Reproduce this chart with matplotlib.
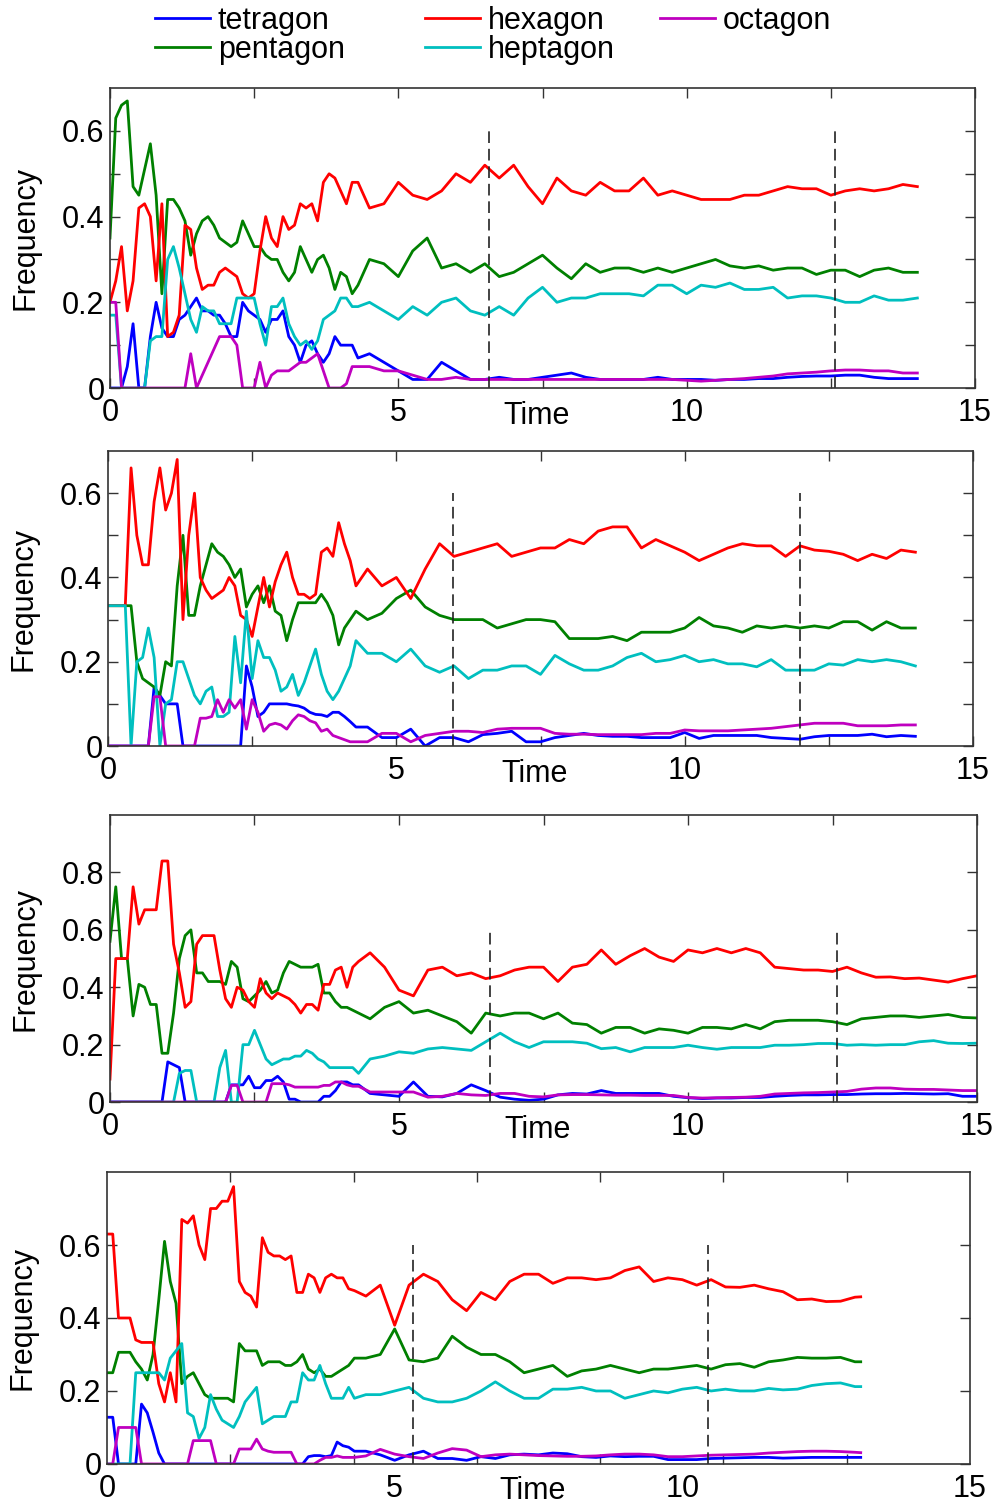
import matplotlib
matplotlib.use('Agg')
import matplotlib.pyplot as plt
import numpy as np
from matplotlib.lines import Line2D

plt.rcParams['font.family'] = ['Liberation Sans', 'DejaVu Sans']

labels = ['tetragon', 'pentagon', 'hexagon', 'heptagon', 'octagon']
colors = ['#0000ff', '#008000', '#ff0000', '#00bfbf', '#bf00bf']

# time grid: fine steps for the noisy start, coarser afterwards
t_early = np.round(np.arange(0, 4.35, 0.1), 2)
t_p1 = np.concatenate([t_early, np.arange(4.5, 14.01, 0.25)])
t_p2 = np.concatenate([t_early, np.arange(4.5, 14.01, 0.25)])
t_p3 = np.concatenate([t_early, np.arange(4.5, 15.01, 0.25)])
t_p4 = np.concatenate([t_early, np.arange(4.5, 13.01, 0.25), [13.1]])

# ---------------- panel 1 ----------------
p1_tetragon = [0.0, 0.0, 0.0, 0.05, 0.15, 0.0, 0.0, 0.12, 0.20, 0.14,
               0.12, 0.12, 0.16, 0.17, 0.19, 0.21, 0.18, 0.18, 0.17, 0.17,
               0.15, 0.12, 0.12, 0.20, 0.18, 0.17, 0.16, 0.13, 0.16, 0.16,
               0.18, 0.12, 0.10, 0.06, 0.10, 0.11, 0.08, 0.06, 0.08, 0.12,
               0.10, 0.10, 0.10, 0.07,
               0.08, 0.06, 0.04, 0.02, 0.02, 0.06, 0.04, 0.02, 0.02, 0.025,
               0.02, 0.02, 0.025, 0.03, 0.035, 0.025, 0.02, 0.02, 0.02, 0.02,
               0.025, 0.02, 0.02, 0.02, 0.018, 0.02, 0.02, 0.022, 0.022, 0.025,
               0.027, 0.028, 0.028, 0.03, 0.03, 0.025, 0.022, 0.022, 0.022]
p1_pentagon = [0.35, 0.63, 0.66, 0.67, 0.47, 0.45, 0.51, 0.57, 0.45, 0.22,
               0.44, 0.44, 0.42, 0.39, 0.31, 0.36, 0.39, 0.40, 0.38, 0.35,
               0.34, 0.33, 0.34, 0.39, 0.36, 0.33, 0.33, 0.31, 0.30, 0.30,
               0.27, 0.25, 0.27, 0.33, 0.30, 0.27, 0.30, 0.31, 0.28, 0.23,
               0.27, 0.26, 0.22, 0.24,
               0.30, 0.29, 0.26, 0.32, 0.35, 0.28, 0.29, 0.27, 0.29, 0.26,
               0.27, 0.29, 0.31, 0.28, 0.255, 0.29, 0.27, 0.28, 0.28, 0.27,
               0.28, 0.27, 0.28, 0.29, 0.30, 0.285, 0.28, 0.285, 0.275, 0.28,
               0.28, 0.265, 0.275, 0.275, 0.26, 0.275, 0.28, 0.27, 0.27]
p1_hexagon = [0.20, 0.25, 0.33, 0.18, 0.25, 0.42, 0.43, 0.40, 0.25, 0.43,
              0.12, 0.13, 0.17, 0.38, 0.37, 0.28, 0.23, 0.24, 0.24, 0.27,
              0.28, 0.27, 0.26, 0.22, 0.21, 0.22, 0.32, 0.40, 0.35, 0.33,
              0.40, 0.37, 0.38, 0.43, 0.42, 0.43, 0.39, 0.48, 0.50, 0.49,
              0.46, 0.43, 0.48, 0.48,
              0.42, 0.43, 0.48, 0.45, 0.44, 0.46, 0.50, 0.48, 0.52, 0.49,
              0.52, 0.47, 0.43, 0.49, 0.46, 0.45, 0.48, 0.46, 0.46, 0.49,
              0.45, 0.46, 0.45, 0.44, 0.44, 0.44, 0.45, 0.45, 0.46, 0.47,
              0.465, 0.465, 0.45, 0.46, 0.465, 0.46, 0.465, 0.475, 0.47]
p1_heptagon = [0.17, 0.17, 0.0, 0.0, 0.0, 0.0, 0.0, 0.11, 0.12, 0.12,
               0.30, 0.33, 0.28, 0.22, 0.16, 0.13, 0.19, 0.18, 0.18, 0.15,
               0.15, 0.15, 0.21, 0.21, 0.21, 0.21, 0.15, 0.10, 0.19, 0.19,
               0.21, 0.15, 0.12, 0.10, 0.11, 0.09, 0.11, 0.16, 0.17, 0.18,
               0.21, 0.21, 0.19, 0.19,
               0.20, 0.18, 0.16, 0.19, 0.17, 0.20, 0.21, 0.18, 0.17, 0.19,
               0.17, 0.21, 0.235, 0.20, 0.21, 0.21, 0.22, 0.22, 0.22, 0.215,
               0.24, 0.24, 0.22, 0.24, 0.235, 0.245, 0.23, 0.23, 0.235, 0.21,
               0.215, 0.215, 0.21, 0.20, 0.20, 0.215, 0.205, 0.205, 0.21]
p1_octagon = [0.20, 0.20, 0.0, 0.0, 0.0, 0.0, 0.0, 0.0, 0.0, 0.0,
              0.0, 0.0, 0.0, 0.0, 0.08, 0.0, 0.03, 0.06, 0.09, 0.12,
              0.12, 0.12, 0.10, 0.0, 0.0, 0.0, 0.06, 0.0, 0.03, 0.04,
              0.04, 0.04, 0.05, 0.06, 0.06, 0.07, 0.08, 0.04, 0.0, 0.0,
              0.0, 0.01, 0.05, 0.05,
              0.05, 0.04, 0.04, 0.03, 0.02, 0.02, 0.025, 0.02, 0.02, 0.02,
              0.02, 0.02, 0.02, 0.02, 0.02, 0.02, 0.02, 0.02, 0.02, 0.02,
              0.02, 0.02, 0.018, 0.016, 0.018, 0.02, 0.022, 0.025, 0.028, 0.033,
              0.035, 0.037, 0.04, 0.042, 0.042, 0.04, 0.04, 0.035, 0.035]

# ---------------- panel 2 ----------------
p2_tetragon = [0.0, 0.0, 0.0, 0.0, 0.0, 0.0, 0.0, 0.0, 0.14, 0.12,
               0.10, 0.10, 0.10, 0.0, 0.0, 0.0, 0.0, 0.0, 0.0, 0.0,
               0.0, 0.0, 0.0, 0.0, 0.19, 0.14, 0.07, 0.08, 0.10, 0.10,
               0.10, 0.10, 0.097, 0.095, 0.09, 0.08, 0.075, 0.074, 0.07, 0.08,
               0.08, 0.07, 0.058, 0.045,
               0.045, 0.02, 0.02, 0.04, 0.0, 0.02, 0.02, 0.01, 0.027, 0.03,
               0.035, 0.01, 0.01, 0.02, 0.025, 0.03, 0.025, 0.023, 0.023, 0.02,
               0.02, 0.02, 0.032, 0.018, 0.025, 0.025, 0.025, 0.025, 0.02, 0.018,
               0.016, 0.022, 0.025, 0.025, 0.025, 0.028, 0.022, 0.025, 0.023]
p2_pentagon = [0.333, 0.333, 0.333, 0.333, 0.333, 0.20, 0.16, 0.15, 0.14, 0.12,
               0.20, 0.19, 0.38, 0.50, 0.31, 0.31, 0.38, 0.43, 0.48, 0.46,
               0.45, 0.43, 0.40, 0.42, 0.33, 0.36, 0.38, 0.34, 0.38, 0.32,
               0.31, 0.25, 0.30, 0.34, 0.34, 0.34, 0.34, 0.36, 0.34, 0.31,
               0.24, 0.28, 0.30, 0.32,
               0.30, 0.315, 0.35, 0.37, 0.33, 0.31, 0.30, 0.30, 0.30, 0.28,
               0.29, 0.30, 0.30, 0.295, 0.255, 0.255, 0.255, 0.26, 0.25, 0.27,
               0.27, 0.27, 0.28, 0.305, 0.285, 0.28, 0.27, 0.285, 0.28, 0.285,
               0.28, 0.285, 0.28, 0.295, 0.295, 0.275, 0.295, 0.28, 0.28]
p2_hexagon = [0.333, 0.333, 0.333, 0.333, 0.66, 0.50, 0.43, 0.43, 0.58, 0.66,
              0.56, 0.60, 0.68, 0.30, 0.50, 0.60, 0.40, 0.37, 0.35, 0.36,
              0.37, 0.40, 0.38, 0.31, 0.30, 0.26, 0.33, 0.40, 0.33, 0.39,
              0.43, 0.46, 0.40, 0.36, 0.36, 0.35, 0.36, 0.46, 0.47, 0.45,
              0.53, 0.48, 0.44, 0.38,
              0.42, 0.38, 0.40, 0.35, 0.42, 0.48, 0.45, 0.46, 0.47, 0.48,
              0.45, 0.46, 0.47, 0.47, 0.49, 0.48, 0.51, 0.52, 0.52, 0.47,
              0.49, 0.475, 0.46, 0.44, 0.455, 0.47, 0.48, 0.475, 0.475, 0.45,
              0.475, 0.465, 0.462, 0.455, 0.44, 0.455, 0.445, 0.465, 0.46]
p2_heptagon = [0.333, 0.333, 0.333, 0.333, 0.0, 0.20, 0.21, 0.28, 0.21, 0.0,
               0.10, 0.11, 0.20, 0.20, 0.16, 0.12, 0.10, 0.13, 0.14, 0.07,
               0.07, 0.08, 0.26, 0.15, 0.32, 0.16, 0.25, 0.21, 0.21, 0.18,
               0.13, 0.14, 0.17, 0.12, 0.15, 0.19, 0.23, 0.17, 0.13, 0.11,
               0.13, 0.16, 0.19, 0.25,
               0.22, 0.22, 0.20, 0.23, 0.19, 0.175, 0.19, 0.16, 0.18, 0.18,
               0.19, 0.19, 0.17, 0.215, 0.195, 0.18, 0.18, 0.19, 0.21, 0.22,
               0.20, 0.205, 0.215, 0.20, 0.205, 0.195, 0.195, 0.188, 0.205, 0.18,
               0.18, 0.18, 0.195, 0.192, 0.205, 0.20, 0.205, 0.20, 0.19]
p2_octagon = [0.0, 0.0, 0.0, 0.0, 0.0, 0.0, 0.0, 0.0, 0.117, 0.117,
              0.0, 0.0, 0.0, 0.0, 0.0, 0.0, 0.066, 0.066, 0.07, 0.11,
              0.08, 0.11, 0.09, 0.11, 0.04, 0.11, 0.08, 0.035, 0.05, 0.054,
              0.05, 0.04, 0.06, 0.074, 0.07, 0.06, 0.055, 0.035, 0.04, 0.025,
              0.02, 0.015, 0.01, 0.01,
              0.01, 0.03, 0.03, 0.01, 0.025, 0.03, 0.035, 0.035, 0.032, 0.04,
              0.042, 0.042, 0.042, 0.03, 0.028, 0.028, 0.027, 0.027, 0.027, 0.027,
              0.03, 0.03, 0.038, 0.036, 0.036, 0.036, 0.038, 0.04, 0.042, 0.046,
              0.05, 0.054, 0.054, 0.054, 0.048, 0.048, 0.048, 0.05, 0.05]

# ---------------- panel 3 ----------------
p3_tetragon = [0.0, 0.0, 0.0, 0.0, 0.0, 0.0, 0.0, 0.0, 0.0, 0.0,
               0.14, 0.13, 0.12, 0.0, 0.0, 0.0, 0.0, 0.0, 0.0, 0.0,
               0.0, 0.06, 0.06, 0.06, 0.09, 0.05, 0.05, 0.075, 0.075, 0.09,
               0.07, 0.01, 0.01, 0.0, 0.0, 0.0, 0.0, 0.02, 0.02, 0.04,
               0.07, 0.07, 0.06, 0.06,
               0.03, 0.025, 0.02, 0.07, 0.02, 0.018, 0.03, 0.06, 0.04, 0.017,
               0.01, 0.006, 0.01, 0.025, 0.03, 0.028, 0.04, 0.03, 0.03, 0.03,
               0.03, 0.02, 0.015, 0.012, 0.014, 0.014, 0.016, 0.016, 0.02, 0.023,
               0.025, 0.025, 0.026, 0.026, 0.028, 0.029, 0.029, 0.03, 0.029, 0.028,
               0.029, 0.02, 0.02]
p3_pentagon = [0.56, 0.75, 0.50, 0.50, 0.30, 0.41, 0.40, 0.34, 0.34, 0.17,
               0.17, 0.31, 0.50, 0.58, 0.60, 0.45, 0.45, 0.42, 0.42, 0.42,
               0.41, 0.49, 0.47, 0.36, 0.35, 0.37, 0.39, 0.42, 0.38, 0.39,
               0.45, 0.49, 0.48, 0.47, 0.47, 0.47, 0.48, 0.38, 0.38, 0.35,
               0.33, 0.33, 0.32, 0.31,
               0.29, 0.33, 0.35, 0.31, 0.32, 0.30, 0.28, 0.24, 0.31, 0.30,
               0.31, 0.31, 0.29, 0.31, 0.275, 0.27, 0.24, 0.26, 0.26, 0.24,
               0.255, 0.25, 0.24, 0.26, 0.26, 0.255, 0.27, 0.255, 0.28, 0.285,
               0.285, 0.285, 0.28, 0.27, 0.29, 0.295, 0.30, 0.30, 0.295, 0.30,
               0.305, 0.295, 0.293]
p3_hexagon = [0.08, 0.50, 0.50, 0.50, 0.75, 0.62, 0.67, 0.67, 0.67, 0.84,
              0.84, 0.55, 0.45, 0.33, 0.35, 0.55, 0.58, 0.58, 0.58, 0.46,
              0.36, 0.33, 0.40, 0.39, 0.35, 0.33, 0.43, 0.38, 0.36, 0.38,
              0.37, 0.36, 0.34, 0.31, 0.34, 0.34, 0.32, 0.41, 0.41, 0.46,
              0.47, 0.40, 0.47, 0.49,
              0.52, 0.47, 0.39, 0.37, 0.46, 0.47, 0.44, 0.45, 0.43, 0.44,
              0.46, 0.47, 0.47, 0.42, 0.47, 0.48, 0.53, 0.48, 0.51, 0.535,
              0.505, 0.49, 0.53, 0.52, 0.535, 0.52, 0.535, 0.52, 0.47, 0.465,
              0.46, 0.46, 0.455, 0.47, 0.45, 0.435, 0.436, 0.43, 0.432, 0.425,
              0.418, 0.43, 0.44]
p3_heptagon = [0.0, 0.0, 0.0, 0.0, 0.0, 0.0, 0.0, 0.0, 0.0, 0.0,
               0.0, 0.0, 0.10, 0.11, 0.11, 0.0, 0.0, 0.0, 0.0, 0.12,
               0.18, 0.0, 0.0, 0.20, 0.20, 0.25, 0.20, 0.15, 0.13, 0.14,
               0.15, 0.15, 0.16, 0.16, 0.18, 0.17, 0.15, 0.14, 0.12, 0.12,
               0.12, 0.12, 0.12, 0.10,
               0.15, 0.16, 0.175, 0.17, 0.185, 0.19, 0.185, 0.18, 0.21, 0.24,
               0.21, 0.19, 0.21, 0.21, 0.21, 0.205, 0.186, 0.19, 0.175, 0.19,
               0.19, 0.19, 0.198, 0.19, 0.184, 0.19, 0.19, 0.19, 0.198, 0.198,
               0.20, 0.204, 0.204, 0.198, 0.20, 0.198, 0.20, 0.20, 0.21, 0.214,
               0.205, 0.204, 0.205]
p3_octagon = [0.0, 0.0, 0.0, 0.0, 0.0, 0.0, 0.0, 0.0, 0.0, 0.0,
              0.0, 0.0, 0.0, 0.0, 0.0, 0.0, 0.0, 0.0, 0.0, 0.0,
              0.0, 0.058, 0.058, 0.0, 0.0, 0.0, 0.0, 0.0, 0.064, 0.064,
              0.064, 0.06, 0.052, 0.052, 0.052, 0.052, 0.052, 0.058, 0.058, 0.07,
              0.07, 0.06, 0.055, 0.055,
              0.035, 0.035, 0.035, 0.035, 0.017, 0.02, 0.03, 0.025, 0.023, 0.03,
              0.03, 0.02, 0.018, 0.025, 0.026, 0.026, 0.025, 0.024, 0.024, 0.023,
              0.023, 0.023, 0.016, 0.014, 0.015, 0.016, 0.017, 0.02, 0.028, 0.03,
              0.032, 0.033, 0.035, 0.037, 0.045, 0.049, 0.049, 0.045, 0.044, 0.044,
              0.042, 0.04, 0.04]

# ---------------- panel 4 ----------------
p4_tetragon = [0.128, 0.128, 0.0, 0.0, 0.0, 0.0, 0.164, 0.14, 0.087, 0.03,
               0.0, 0.0, 0.0, 0.0, 0.0, 0.0, 0.0, 0.0, 0.0, 0.0,
               0.0, 0.0, 0.0, 0.0, 0.0, 0.0, 0.0, 0.0, 0.0, 0.0,
               0.0, 0.0, 0.0, 0.0, 0.0, 0.02, 0.023, 0.023, 0.02, 0.023,
               0.06, 0.05, 0.046, 0.035,
               0.035, 0.025, 0.01, 0.025, 0.035, 0.015, 0.015, 0.01, 0.02, 0.015,
               0.025, 0.027, 0.025, 0.03, 0.028, 0.02, 0.018, 0.022, 0.02, 0.021,
               0.021, 0.012, 0.012, 0.012, 0.015, 0.016, 0.017, 0.018, 0.018, 0.016,
               0.017, 0.018, 0.018, 0.018, 0.018, 0.018]
p4_pentagon = [0.25, 0.25, 0.306, 0.306, 0.306, 0.28, 0.26, 0.23, 0.30, 0.45,
               0.61, 0.50, 0.44, 0.22, 0.24, 0.25, 0.22, 0.19, 0.18, 0.18,
               0.18, 0.18, 0.17, 0.33, 0.31, 0.31, 0.31, 0.27, 0.28, 0.28,
               0.28, 0.27, 0.27, 0.28, 0.30, 0.26, 0.25, 0.26, 0.24, 0.24,
               0.25, 0.26, 0.27, 0.29,
               0.29, 0.30, 0.37, 0.285, 0.28, 0.29, 0.35, 0.32, 0.30, 0.30,
               0.28, 0.25, 0.26, 0.27, 0.24, 0.255, 0.26, 0.27, 0.26, 0.25,
               0.26, 0.26, 0.265, 0.27, 0.26, 0.272, 0.275, 0.265, 0.28, 0.285,
               0.292, 0.29, 0.29, 0.292, 0.28, 0.28]
p4_hexagon = [0.63, 0.63, 0.40, 0.40, 0.40, 0.34, 0.333, 0.333, 0.333, 0.22,
              0.17, 0.25, 0.17, 0.67, 0.66, 0.68, 0.60, 0.56, 0.70, 0.70,
              0.72, 0.72, 0.76, 0.50, 0.47, 0.46, 0.43, 0.62, 0.58, 0.57,
              0.57, 0.56, 0.57, 0.47, 0.47, 0.52, 0.51, 0.47, 0.51, 0.52,
              0.51, 0.51, 0.48, 0.475,
              0.46, 0.49, 0.38, 0.49, 0.52, 0.50, 0.45, 0.42, 0.47, 0.45,
              0.50, 0.52, 0.52, 0.495, 0.51, 0.51, 0.505, 0.51, 0.53, 0.54,
              0.50, 0.51, 0.505, 0.49, 0.505, 0.485, 0.484, 0.49, 0.48, 0.472,
              0.45, 0.452, 0.445, 0.446, 0.457, 0.458]
p4_heptagon = [0.0, 0.0, 0.0, 0.0, 0.0, 0.25, 0.25, 0.25, 0.25, 0.25,
               0.23, 0.29, 0.31, 0.33, 0.14, 0.13, 0.07, 0.10, 0.19, 0.15,
               0.12, 0.11, 0.10, 0.13, 0.17, 0.19, 0.21, 0.11, 0.12, 0.13,
               0.13, 0.13, 0.17, 0.17, 0.25, 0.23, 0.23, 0.27, 0.22, 0.18,
               0.18, 0.18, 0.21, 0.18,
               0.19, 0.19, 0.20, 0.21, 0.18, 0.17, 0.17, 0.18, 0.20, 0.225,
               0.20, 0.18, 0.18, 0.205, 0.205, 0.21, 0.20, 0.20, 0.18, 0.19,
               0.20, 0.195, 0.205, 0.21, 0.20, 0.205, 0.20, 0.20, 0.207, 0.203,
               0.205, 0.215, 0.22, 0.222, 0.212, 0.212]
p4_octagon = [0.0, 0.0, 0.10, 0.10, 0.10, 0.10, 0.0, 0.0, 0.0, 0.0,
              0.0, 0.0, 0.0, 0.0, 0.0, 0.064, 0.064, 0.064, 0.064, 0.0,
              0.0, 0.0, 0.0, 0.041, 0.041, 0.041, 0.068, 0.041, 0.035, 0.032,
              0.032, 0.032, 0.032, 0.0, 0.0, 0.0, 0.0, 0.01, 0.018, 0.018,
              0.022, 0.018, 0.018, 0.018,
              0.022, 0.04, 0.027, 0.02, 0.015, 0.03, 0.042, 0.038, 0.02, 0.025,
              0.027, 0.025, 0.023, 0.022, 0.021, 0.021, 0.022, 0.025, 0.027, 0.027,
              0.025, 0.02, 0.02, 0.022, 0.024, 0.025, 0.026, 0.027, 0.03, 0.032,
              0.034, 0.035, 0.035, 0.034, 0.032, 0.031]

# dashed event markers
p1_marks = [6.57, 12.57]
p2_marks = [5.98, 12.0]
p3_marks = [6.58, 12.58]
p4_marks = [5.31, 10.45]

panels = [
    (t_p1, [p1_tetragon, p1_pentagon, p1_hexagon, p1_heptagon, p1_octagon], p1_marks, 0.7),
    (t_p2, [p2_tetragon, p2_pentagon, p2_hexagon, p2_heptagon, p2_octagon], p2_marks, 0.7),
    (t_p3, [p3_tetragon, p3_pentagon, p3_hexagon, p3_heptagon, p3_octagon], p3_marks, 1.0),
    (t_p4, [p4_tetragon, p4_pentagon, p4_hexagon, p4_heptagon, p4_octagon], p4_marks, 0.8),
]

rects = [[0.1101, 0.7427, 0.8659, 0.1989],
         [0.1081, 0.5053, 0.8659, 0.1956],
         [0.1101, 0.2692, 0.8679, 0.1903],
         [0.1071, 0.0292, 0.8639, 0.1936]]

FS = 22
fig = plt.figure(figsize=(9.99, 15.08), dpi=100)

for i, (t, series, marks, ymax) in enumerate(panels):
    ax = fig.add_axes(rects[i])
    for vals, c in zip(series, colors):
        ax.plot(t, vals, color=c, lw=2)
    ax.vlines(marks, 0, 0.6, colors='#222222', linestyles=(0, (7, 3.5)), lw=1.2)

    ax.set_xlim(0, 15)
    ax.set_ylim(0, ymax)

    # y ticks
    if i < 2:
        ax.set_yticks(np.round(np.arange(0, 0.65, 0.1), 1))
        ax.set_yticklabels(['0', '', '0.2', '', '0.4', '', '0.6'])
    elif i == 2:
        ax.set_yticks([0, 0.2, 0.4, 0.6, 0.8])
        ax.set_yticklabels(['0', '0.2', '0.4', '0.6', '0.8'])
    else:
        ax.set_yticks([0, 0.2, 0.4, 0.6])
        ax.set_yticklabels(['0', '0.2', '0.4', '0.6'])

    # x ticks
    if i < 3:
        ax.set_xticks(np.arange(0, 15.01, 2.5))
        ax.set_xticklabels(['0', '', '5', '', '10', '', '15'])
        ax.tick_params(axis='x', which='major', length=7)
    else:
        ax.set_xticks([0, 5, 10, 15])
        ax.set_xticklabels(['0', '5', '10', '15'])
        ax.set_xticks(np.arange(1, 7) * 15 / 7, minor=True)
        ax.tick_params(axis='x', which='major', length=0)
        ax.tick_params(axis='x', which='minor', length=7, width=1,
                       direction='in', top=True, bottom=True, color='#333333')

    ax.tick_params(which='both', direction='in', top=True, right=True,
                   width=1, color='#333333', labelsize=FS)
    ax.tick_params(axis='y', length=7, pad=4)
    ax.tick_params(axis='x', which='major', pad=7)
    for s in ax.spines.values():
        s.set_color('#333333')
        s.set_linewidth(1.2)

    ax.set_ylabel('Frequency', fontsize=FS)
    ax.yaxis.set_label_coords(-0.08, 0.5)
    ax.annotate('Time', xy=(7.4, 0), xycoords=('data', 'axes fraction'),
                xytext=(0, -9), textcoords='offset points',
                ha='center', va='top', fontsize=FS)

# legend in three columns along the top
handles = [Line2D([], [], color=c, lw=2) for c in colors]
groups = [(0, 1), (2, 3), (4,)]
xs = [0.155, 0.4254, 0.6607]
for g, x in zip(groups, xs):
    fig.legend([handles[k] for k in g], [labels[k] for k in g],
               loc='upper left', bbox_to_anchor=(x, 0.996), frameon=False,
               fontsize=FS, handlelength=1.8, handletextpad=0.26,
               labelspacing=-0.04, borderpad=0, borderaxespad=0)

fig.savefig('out.png', dpi=100)
